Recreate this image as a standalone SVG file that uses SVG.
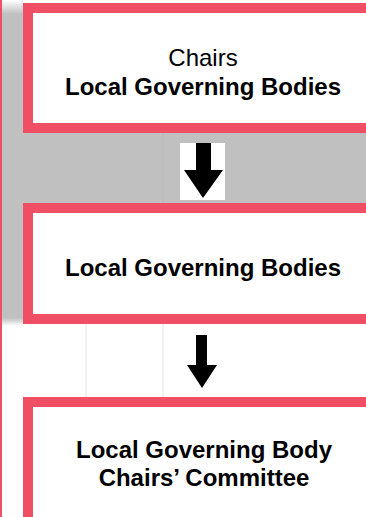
<svg xmlns="http://www.w3.org/2000/svg" width="366" height="517" viewBox="0 0 366 517">
<defs>
<linearGradient id="gTop" x1="0" y1="0" x2="0" y2="1">
<stop offset="0" stop-color="#ffffff"/>
<stop offset="1" stop-color="#c0c0c0"/>
</linearGradient>
<linearGradient id="gBot" x1="0" y1="0" x2="0" y2="1">
<stop offset="0" stop-color="#c0c0c0"/>
<stop offset="1" stop-color="#ffffff"/>
</linearGradient>
<style>
.box{fill:#ffffff;stroke:#f04e64;stroke-width:10}
.t{font-family:"Liberation Sans",Arial,sans-serif;font-size:24px;fill:#000;text-anchor:middle}
.b{font-weight:bold}
.arrow{fill:#000}
.grid{stroke:#ececec;stroke-width:1.5}
</style>
</defs>
<rect x="0" y="0" width="366" height="517" fill="#ffffff"/>
<g id="background">
<rect x="2" y="0" width="21" height="14" fill="url(#gTop)"/>
<rect x="2" y="14" width="21" height="304" fill="#c0c0c0"/>
<rect x="2" y="318" width="21" height="8" fill="url(#gBot)"/>
<rect x="23" y="128" width="343" height="80" fill="#c0c0c0"/>
<line class="grid" x1="86" y1="324" x2="86" y2="397"/>
<line class="grid" x1="163" y1="324" x2="163" y2="397"/>
<line x1="163" y1="133" x2="163" y2="203" stroke="#b8b8b8" stroke-width="1"/>
<rect x="0" y="0" width="2" height="517" fill="#f04e64"/>
</g>
<g id="node1">
<rect class="box" x="28" y="8" width="400" height="120"/>
<text class="t" x="203" y="66">Chairs</text>
<text class="t b" x="203" y="95">Local Governing Bodies</text>
</g>
<g id="node2">
<rect class="box" x="28" y="208" width="400" height="111"/>
<text class="t b" x="203" y="276">Local Governing Bodies</text>
</g>
<g id="node3">
<rect class="box" x="28" y="402" width="400" height="200"/>
<text class="t b" x="204" y="458">Local Governing Body</text>
<text class="t b" x="204" y="486">Chairs’ Committee</text>
</g>
<g id="connectors">
<rect x="180" y="143" width="45" height="57" fill="#ffffff"/>
<polygon class="arrow" points="196,143 211,143 211,170 223,170 203,198 184,170 196,170"/>
<polygon class="arrow" points="196,335 207,335 207,365 217,365 202,388 187,365 196,365"/>
</g>
</svg>
